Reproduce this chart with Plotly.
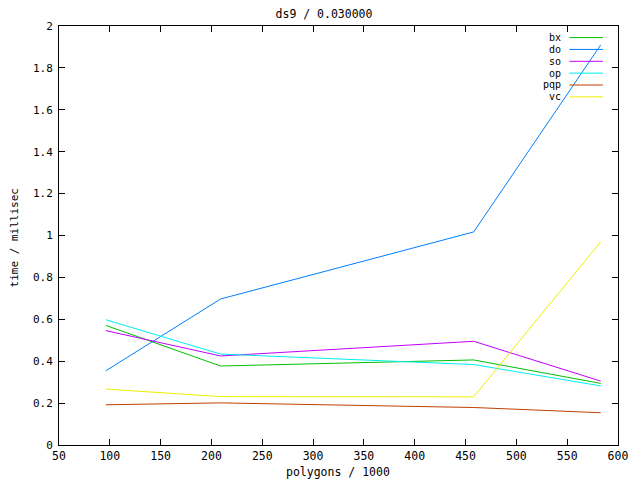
import plotly.graph_objects as go

# polygons / 1000
polygons = [96, 209, 458, 583]

series_names = ['bx', 'do', 'so', 'op', 'pqp', 'vc']
bx = [0.571, 0.377, 0.406, 0.294]
do = [0.354, 0.697, 1.017, 1.91]
so = [0.546, 0.425, 0.495, 0.305]
op = [0.598, 0.434, 0.384, 0.282]
pqp = [0.192, 0.201, 0.179, 0.154]
vc = [0.267, 0.231, 0.230, 0.970]

x_ticks = [50, 100, 150, 200, 250, 300, 350, 400, 450, 500, 550, 600]
y_ticks = [0, 0.2, 0.4, 0.6, 0.8, 1, 1.2, 1.4, 1.6, 1.8, 2]
y_tick_labels = ['0', '0.2', '0.4', '0.6', '0.8', '1', '1.2', '1.4', '1.6', '1.8', '2']

colors = ['#00c000', '#0080ff', '#c000ff', '#00eeee', '#c04000', '#eeee00']
font_family = 'DejaVu Sans Mono'
text_font = dict(family=font_family, size=11.5, color='black')
key_font = dict(family=font_family, size=10, color='black')

fig = go.Figure()

for name, values, color in zip(series_names, [bx, do, so, op, pqp, vc], colors):
    fig.add_trace(go.Scatter(
        x=polygons,
        y=values,
        mode='lines',
        name=name,
        line=dict(color=color, width=1),
        showlegend=False
    ))

# gnuplot style key: label first, line sample after it
annotations = []
shapes = []
row_top = 0.9724
row_step = 12 / 424
for i, (name, color) in enumerate(zip(series_names, colors)):
    y = row_top - i * row_step
    annotations.append(dict(
        x=0.9005, y=y, xref='paper', yref='paper',
        text=name, showarrow=False,
        xanchor='right', yanchor='middle',
        borderpad=0,
        font=key_font
    ))
    shapes.append(dict(
        type='line', xref='paper', yref='paper',
        x0=0.913, x1=0.973, y0=y, y1=y,
        line=dict(color=color, width=1)
    ))

# axis titles placed like gnuplot does
annotations.append(dict(
    x=0.499, y=-0.064, xref='paper', yref='paper',
    text='polygons / 1000', showarrow=False,
    xanchor='center', yanchor='middle', font=text_font
))
annotations.append(dict(
    x=-0.079, y=0.495, xref='paper', yref='paper',
    text='time / millisec', showarrow=False, textangle=-90,
    xanchor='center', yanchor='middle', borderpad=0,
    font=dict(family=font_family, size=11, color='black')
))

axis_style = dict(
    showline=True,
    linecolor='black',
    linewidth=1,
    mirror='allticks',
    ticks='inside',
    ticklen=6,
    tickcolor='black',
    showgrid=False,
    zeroline=False,
)

# page body has an 8px margin, so the figure is 8px smaller and margins shifted
fig.update_layout(
    width=632,
    height=472,
    paper_bgcolor='white',
    plot_bgcolor='white',
    margin=dict(l=51, r=18, t=13, b=35),
    title=dict(
        text='ds9 / 0.030000',
        x=0.5, xanchor='center',
        y=1 - 6 / 472, yanchor='middle',
        font=text_font
    ),
    xaxis=dict(range=[50, 600], tickvals=x_ticks, tickfont=text_font, **axis_style),
    yaxis=dict(range=[0, 2], tickvals=y_ticks, ticktext=y_tick_labels,
               tickfont=dict(family=font_family, size=11, color='black'),
               ticklabelstandoff=3, **axis_style),
    annotations=annotations,
    shapes=shapes
)

fig.write_html("out.html")
